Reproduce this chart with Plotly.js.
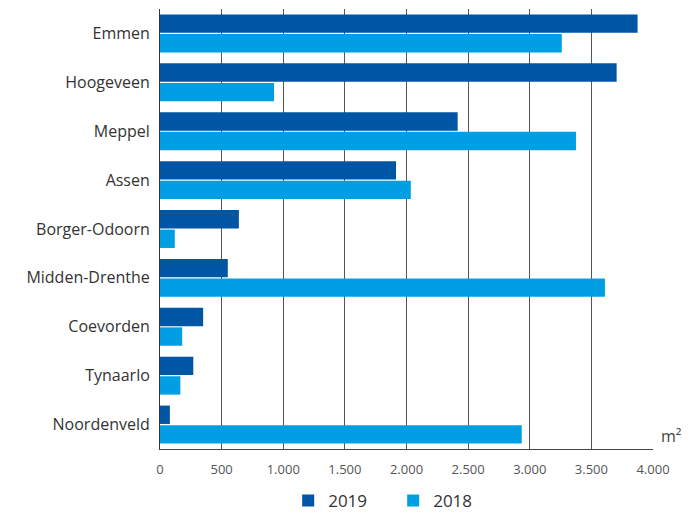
<!DOCTYPE html>
<html><head><meta charset="utf-8">
<script src="https://cdn.plot.ly/plotly-3.0.1.min.js"></script>
<style>body{margin:0}#c{width:700px;height:513px}</style>
</head><body><div id="c"></div>
<script>
const categories = ["Emmen","Hoogeveen","Meppel","Assen","Borger-Odoorn","Midden-Drenthe","Coevorden","Tynaarlo","Noordenveld"];
const values2019 = [3875, 3705, 2415, 1915, 640, 550, 350, 270, 80];
const values2018 = [3260, 925, 3375, 2035, 120, 3610, 180, 165, 2935];
const tickVals = [0,500,1000,1500,2000,2500,3000,3500,4000];

const data = [
  {type:'bar', orientation:'h', name:'2019', y:categories, x:values2019, marker:{color:'#0055A4'}},
  {type:'bar', orientation:'h', name:'2018', y:categories, x:values2018, marker:{color:'#009FE3'}}
];
const layout = {
  width:700, height:513,
  margin:{l:160, r:47, t:9, b:64, autoexpand:false},
  separators:',.',
  barmode:'group', bargap:0.2, bargroupgap:0.06,
  font:{family:'"Open Sans", sans-serif', color:'#333'},
  plot_bgcolor:'#fff', paper_bgcolor:'#fff',
  xaxis:{range:[0,4000], tickvals:tickVals, tickformat:',d', showgrid:true, gridcolor:'#555', gridwidth:1,
         zeroline:false, showline:true, linecolor:'#444', linewidth:1,
         tickfont:{size:13, color:'#555'}, ticks:'', ticklabelstandoff:8, fixedrange:true},
  yaxis:{autorange:'reversed', showline:true, linecolor:'#333', linewidth:1, ticks:'',
         tickfont:{size:16, color:'#333'}, ticklabelstandoff:6},
  legend:{orientation:'h', x:0.26, xanchor:'left', y:-0.118, yanchor:'middle',
          font:{size:17, color:'#333'}, itemwidth:30, entrywidth:60, traceorder:'normal'},
  annotations:[{text:'m²', xref:'paper', yref:'paper', x:1.012, y:0.0, xanchor:'left', yanchor:'bottom',
                showarrow:false, font:{size:16, color:'#444'}}],
  showlegend:true
};
Plotly.newPlot('c', data, layout, {displayModeBar:false, staticPlot:true});
</script></body></html>
